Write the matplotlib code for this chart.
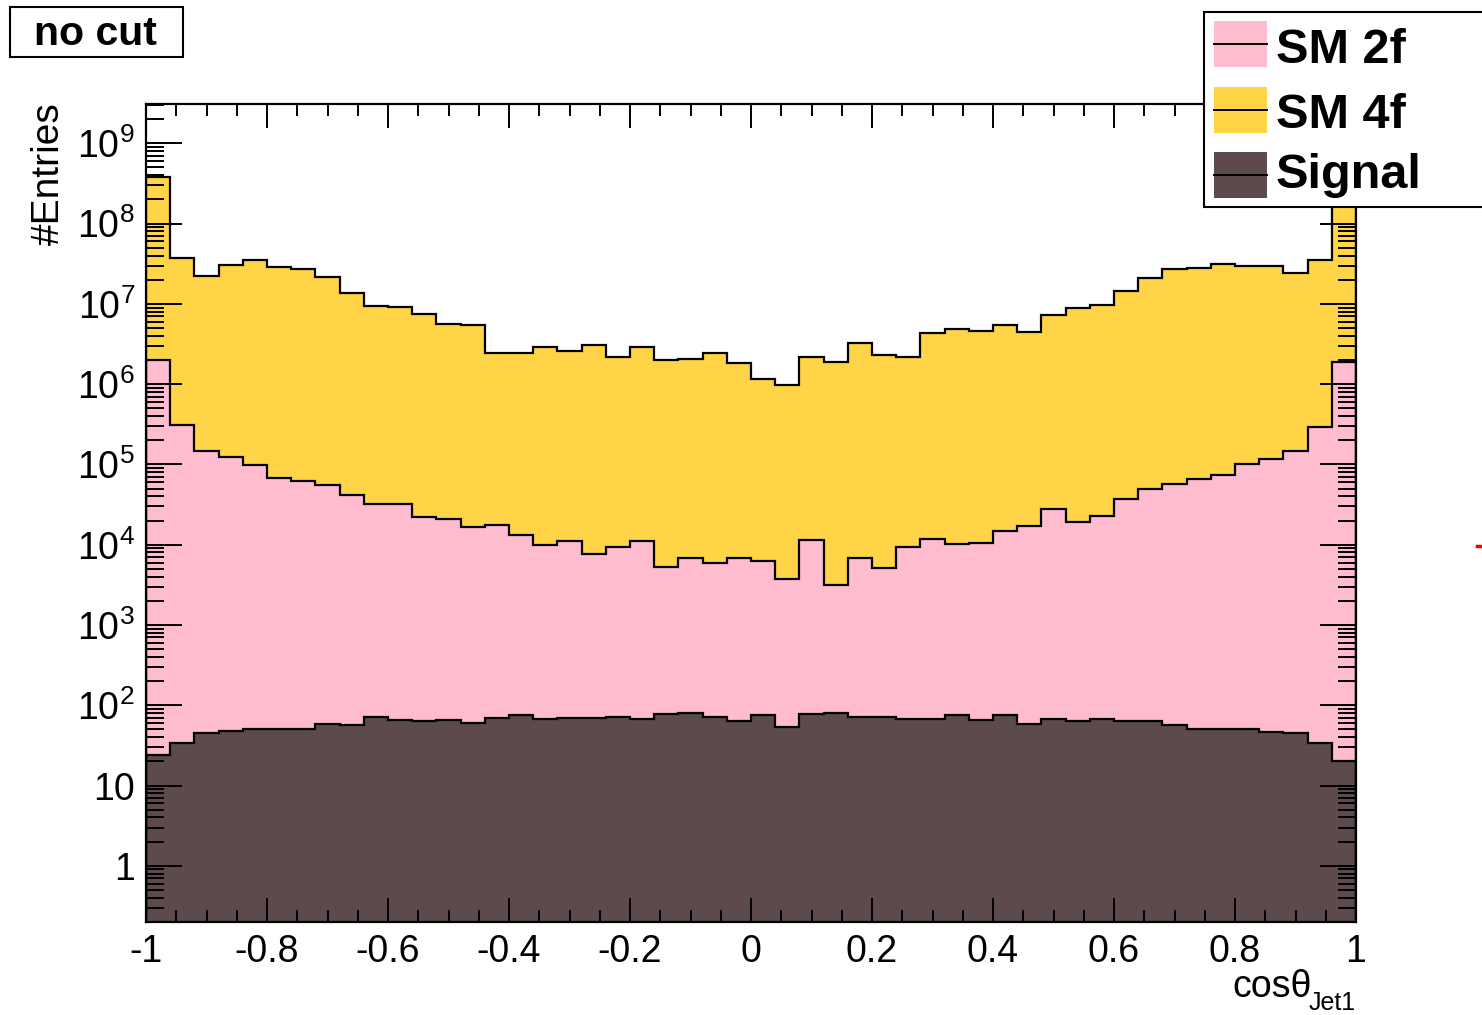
import numpy as np
import matplotlib
matplotlib.use("Agg")
import matplotlib.pyplot as plt
from matplotlib.patches import Rectangle
from matplotlib.lines import Line2D
from matplotlib.ticker import FixedLocator, MultipleLocator, NullFormatter

plt.rcParams['font.family'] = ['Liberation Sans', 'DejaVu Sans']
plt.rcParams['mathtext.fontset'] = 'custom'
plt.rcParams['mathtext.rm'] = 'Liberation Sans'
plt.rcParams['mathtext.it'] = 'Liberation Sans:italic'
plt.rcParams['mathtext.bf'] = 'Liberation Sans:bold'
plt.rcParams['axes.unicode_minus'] = False

# ---------------------------------------------------------------------------
# data : cos(theta) of Jet1, 50 bins from -1 to 1
# ---------------------------------------------------------------------------
bin_edges = np.linspace(-1, 1, 51)

signal = [24, 34, 45, 48, 51, 51, 51, 58, 56, 72,
          65, 63, 65, 60, 70, 75, 68, 70, 70, 72,
          68, 77, 80, 72, 63, 75, 53, 77, 80, 72,
          72, 67, 67, 76, 66, 76, 58, 68, 63, 67,
          64, 64, 56, 51, 51, 51, 46, 45, 34, 20]

sm2f = [2.0e6, 3.1e5, 1.48e5, 1.24e5, 9.8e4, 6.8e4, 6.2e4, 5.6e4, 4.2e4, 3.2e4,
        3.2e4, 2.18e4, 2.08e4, 1.67e4, 1.75e4, 1.3e4, 9.9e3, 1.11e4, 7.5e3, 9.3e3,
        1.11e4, 5.2e3, 6.8e3, 5.9e3, 6.8e3, 6.2e3, 3.7e3, 1.15e4, 3.1e3, 6.8e3,
        5.0e3, 9.2e3, 1.16e4, 1.0e4, 1.05e4, 1.48e4, 1.69e4, 2.8e4, 1.89e4, 2.24e4,
        3.66e4, 4.97e4, 5.7e4, 6.5e4, 7.4e4, 1.02e5, 1.18e5, 1.49e5, 2.9e5, 1.9e6]

sm4f = [3.78e8, 3.7e7, 2.2e7, 3.0e7, 3.5e7, 2.9e7, 2.7e7, 2.15e7, 1.38e7, 9.3e6,
        9.2e6, 7.5e6, 5.6e6, 5.4e6, 2.45e6, 2.45e6, 2.86e6, 2.6e6, 3.1e6, 2.17e6,
        2.9e6, 2.0e6, 2.08e6, 2.43e6, 1.83e6, 1.16e6, 9.6e5, 2.17e6, 1.91e6, 3.24e6,
        2.3e6, 2.2e6, 4.27e6, 4.9e6, 4.65e6, 5.4e6, 4.5e6, 7.3e6, 8.9e6, 9.7e6,
        1.44e7, 2.07e7, 2.73e7, 2.83e7, 3.15e7, 2.97e7, 2.95e7, 2.4e7, 3.5e7, 3.48e8]

labels = ["SM 2f", "SM 4f", "Signal"]
colors = {"SM 2f": "#ffbccf", "SM 4f": "#ffd447", "Signal": "#5c4a4c"}

x_ticks = [-1, -0.8, -0.6, -0.4, -0.2, 0, 0.2, 0.4, 0.6, 0.8, 1]
y_ticks = [1, 10, 1e2, 1e3, 1e4, 1e5, 1e6, 1e7, 1e8, 1e9]
y_ticklabels = ["1", "10"] + [r"$10^{%d}$" % k for k in range(2, 10)]

# ---------------------------------------------------------------------------
W, H = 1482, 1015
fig = plt.figure(figsize=(W / 100, H / 100), dpi=100)
ax = fig.add_axes([146 / W, 1 - 922 / H, 1210 / W, 818 / H])

# stack: signal at the bottom, then SM 2f, then SM 4f
lvl_sig = np.array(signal, dtype=float)
lvl_2f = lvl_sig + np.array(sm2f)
lvl_4f = lvl_2f + np.array(sm4f)

base = 1e-3
for lvl, name in [(lvl_4f, "SM 4f"), (lvl_2f, "SM 2f"), (lvl_sig, "Signal")]:
    ax.stairs(lvl, bin_edges, baseline=base, fill=True, color=colors[name], lw=0)
for lvl in [lvl_4f, lvl_2f, lvl_sig]:
    ax.stairs(lvl, bin_edges, baseline=base, fill=False, color="black", lw=1.6)

ax.set_yscale("log")
ax.set_xlim(-1, 1)
ax.set_ylim(10 ** -0.70, 10 ** 9.49)

ax.set_xticks(x_ticks)
ax.set_xticklabels(["%g" % t for t in x_ticks])
ax.xaxis.set_minor_locator(MultipleLocator(0.05))
ax.yaxis.set_major_locator(FixedLocator(y_ticks))
ax.set_yticklabels(y_ticklabels)
minor_y = [m * 10.0 ** k for k in range(-1, 10) for m in range(2, 10)]
ax.yaxis.set_minor_locator(FixedLocator(minor_y))
ax.yaxis.set_minor_formatter(NullFormatter())

ax.tick_params(axis="x", which="major", direction="in", length=17.6, width=1.4,
               top=True, bottom=True, labelsize=27, pad=9)
ax.tick_params(axis="x", which="minor", direction="in", length=8.8, width=1.4,
               top=True, bottom=True)
ax.tick_params(axis="y", which="major", direction="in", length=26, width=1.4,
               left=True, right=True, labelsize=27, pad=8)
ax.tick_params(axis="y", which="minor", direction="in", length=13, width=1.4,
               left=True, right=True)
for sp in ax.spines.values():
    sp.set_linewidth(1.6)
ax.set_axisbelow(False)

# axis titles
fig.text(49 / W, 1 - 102 / H, "#Entries", rotation=90, ha="center", va="top",
         fontsize=28)
fig.text(1312 / W, 1 - 997 / H, "cos\u03b8", ha="right", va="baseline", fontsize=27)
fig.text(1309 / W, 1 - 1010 / H, "Jet1", ha="left", va="baseline", fontsize=18)

# "no cut" label box
fig.add_artist(Rectangle((10 / W, 1 - 57 / H), 173 / W, 50 / H, transform=fig.transFigure,
                         facecolor="white", edgecolor="black", lw=1.5))
fig.text(95 / W, 1 - 45 / H, "no cut", ha="center", va="baseline", fontsize=29.5,
         fontweight="bold")

# legend (drawn by hand, ROOT style, runs off the right edge)
fig.add_artist(Rectangle((1204 / W, 1 - 207 / H), 320 / W, 195 / H, transform=fig.transFigure,
                         facecolor="white", edgecolor="black", lw=1.5))
sw_top = [21, 87, 152]
txt_base = [63, 128, 188]
for name, top, tb in zip(labels, sw_top, txt_base):
    fig.add_artist(Rectangle((1214 / W, 1 - (top + 46) / H), 53 / W, 46 / H,
                             transform=fig.transFigure, facecolor=colors[name], lw=0))
    fig.add_artist(Line2D([1214 / W, 1267 / W], [1 - (top + 23) / H] * 2,
                          transform=fig.transFigure, color="black", lw=1.4))
    fig.text(1276 / W, 1 - tb / H, name, ha="left", va="baseline", fontsize=35,
             fontweight="bold")

# small red mark at the right border
fig.add_artist(Line2D([1477 / W, 1.0], [1 - 546 / H] * 2, transform=fig.transFigure,
                      color="red", lw=2.5))

fig.savefig("out.png", dpi=100)
